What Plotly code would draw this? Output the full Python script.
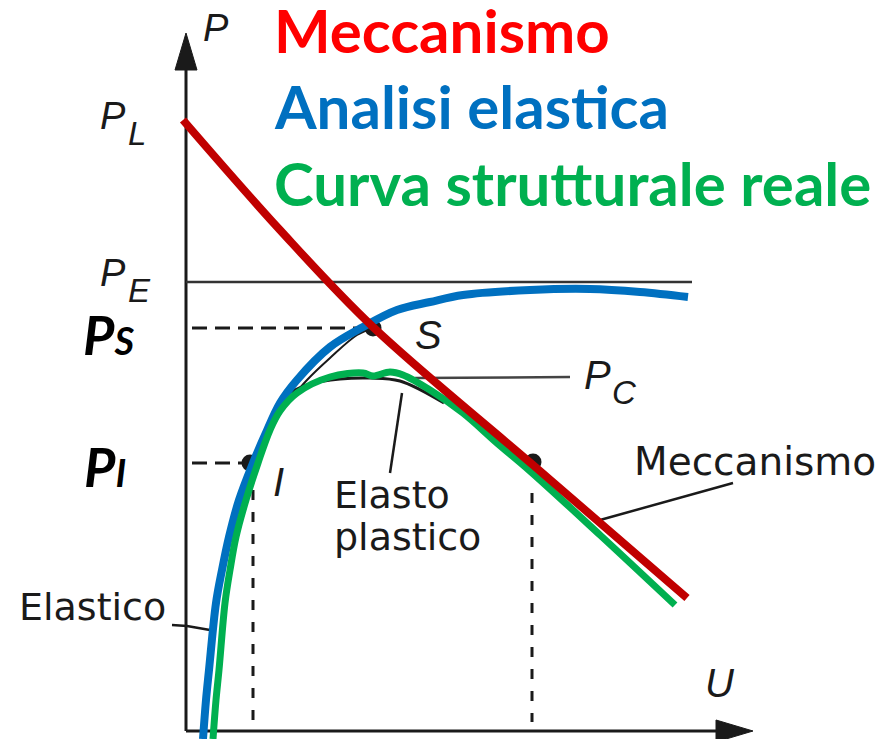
import plotly.graph_objects as go

# ---- data (U = displacement, P = load; arbitrary diagram units) ----
blue_U = [17, 20, 23, 30, 36, 43, 53, 67, 79, 94, 111, 144, 177, 211, 244, 277, 344, 404, 454, 502]
blue_P = [-8, 31, 61, 128, 161, 194, 231, 268, 296, 328, 351, 384, 404, 421, 429, 436, 441, 442, 439, 434]

green_U = [27, 30, 33, 39, 44, 50, 60, 72, 84, 94, 111, 144, 177, 187, 204, 217, 244, 277, 311, 344, 414, 489]
green_P = [-8, 31, 61, 128, 161, 194, 231, 268, 301, 320, 338, 354, 358, 355, 359, 356, 341, 318, 288, 260, 196, 126]

red_U = [-3, 94, 187, 347, 501]
red_P = [611, 501, 404, 266, 133]

# original (scanned) black curves under the coloured ones
elastic_bk_U = [104, 121, 144, 171, 187]
elastic_bk_P = [331, 351, 373, 396, 403]
elastoplastic_bk_U = [101, 124, 154, 184, 214, 258]
elastoplastic_bk_P = [337, 347, 352, 353, 350, 328]

# key points: S, I, mechanism intersection
pts_U = [187, 64, 347]
pts_P = [403, 268, 269]

# reference levels
P_E = 449
P_S = 403
P_I = 268
U_I = 67
U_M = 346
U_E_END = 506

# axes extents
AX_U_END = 567
AX_P_END = 698
HEAD_LEN = 37
HEAD_HALF = 11

# leader lines
lead_PC_U = [229, 384]; lead_PC_P = [353, 354]
lead_EP_U = [216, 204]; lead_EP_P = [338, 258]
lead_M_U = [547, 414]; lead_M_P = [248, 211]
lead_E_U = [-14, 1, 24]; lead_E_P = [106, 105, 101]

RED = "#C00000"
BLUE = "#0070C0"
GREEN = "#00B050"
INK = "#1a1a1a"

fig = go.Figure()

def line(u, p, color=INK, width=2, dash=None, shape="linear"):
    fig.add_trace(go.Scatter(x=u, y=p, mode="lines", hoverinfo="skip",
                             line=dict(color=color, width=width, dash=dash, shape=shape),
                             showlegend=False))

# axes
line([0, 0], [0, AX_P_END - HEAD_LEN], width=3)
line([0, AX_U_END - HEAD_LEN], [0, 0], width=3)
fig.add_trace(go.Scatter(x=[-HEAD_HALF, 0, HEAD_HALF, -HEAD_HALF],
                         y=[AX_P_END - HEAD_LEN, AX_P_END, AX_P_END - HEAD_LEN, AX_P_END - HEAD_LEN],
                         fill="toself", fillcolor=INK, mode="lines", line=dict(color=INK, width=1),
                         hoverinfo="skip", showlegend=False))
fig.add_trace(go.Scatter(x=[AX_U_END - HEAD_LEN, AX_U_END, AX_U_END - HEAD_LEN, AX_U_END - HEAD_LEN],
                         y=[-HEAD_HALF, 0, HEAD_HALF, -HEAD_HALF],
                         fill="toself", fillcolor=INK, mode="lines", line=dict(color=INK, width=1),
                         hoverinfo="skip", showlegend=False))

# P_E level
line([0, U_E_END], [P_E, P_E], color="#333333", width=2.5)

# dashed guides
line([6, pts_U[0] - 5], [P_S, P_S], width=3, dash="15px,8px")
line([6, pts_U[1] - 5], [P_I, P_I], width=3, dash="15px,8px")
line([U_I, U_I], [241, 2], width=3, dash="10px,12px")
line([U_M, U_M], [238, 9], width=3, dash="10px,12px")

# leader lines
line(lead_PC_U, lead_PC_P, color="#444444", width=2.5)
line(lead_EP_U, lead_EP_P, width=2.5)
line(lead_M_U, lead_M_P, width=2.5)
line(lead_E_U, lead_E_P, width=2.5)

# scanned black curves
line(elastic_bk_U, elastic_bk_P, width=2, shape="spline")
line(elastoplastic_bk_U, elastoplastic_bk_P, width=3, shape="spline")

# points
fig.add_trace(go.Scatter(x=pts_U, y=pts_P, mode="markers", hoverinfo="skip",
                         marker=dict(color=INK, size=17), showlegend=False))

# coloured curves
line(blue_U, blue_P, color=BLUE, width=8, shape="spline")
line(green_U, green_P, color=GREEN, width=7, shape="spline")
line(red_U, red_P, color=RED, width=8, shape="spline")

def txt(u, p, s, size, color=INK, family="DejaVu Sans", xanchor="left", yanchor="middle"):
    fig.add_annotation(x=u, y=p, text=s, showarrow=False, xanchor=xanchor, yanchor=yanchor,
                       font=dict(size=size, color=color, family=family), borderpad=0)

# legend-like titles
TITLE_FONT = "Lato"
txt(87, 701, "<b>Meccanismo</b>", 60, color="#FF0000", family=TITLE_FONT)
txt(87, 625, "<b>Analisi elastica</b>", 60, color=BLUE, family=TITLE_FONT)
txt(87, 548, "<b>Curva strutturale reale</b>", 60, color=GREEN, family=TITLE_FONT)

# axis labels
SC = "Liberation Sans"
txt(30, 703, "<i>P</i>", 38, family=SC, xanchor="center")
txt(534, 48, "<i>U</i>", 40, family=SC, xanchor="center")
txt(-73, 615, "<i>P</i>", 38, family=SC, xanchor="center")
txt(-49, 598, "<i>L</i>", 33, family=SC, xanchor="center")
txt(-73, 458, "<i>P</i>", 38, family=SC, xanchor="center")
txt(-47, 441, "<i>E</i>", 33, family=SC, xanchor="center")
txt(411, 356, "<i>P</i>", 40, family=SC, xanchor="center")
txt(438, 339, "<i>C</i>", 33, family=SC, xanchor="center")
txt(242, 396, "<i>S</i>", 40, family=SC, xanchor="center")
txt(92, 249, "<i>I</i>", 40, family=SC, xanchor="center")

# bold P_S and P_I
txt(-104, 397, "<b><i>P<span style='font-size:38px'>S</span></i></b>", 54, color="#000000", family=TITLE_FONT)
txt(-103, 265, "<b><i>P<span style='font-size:38px'>I</span></i></b>", 54, color="#000000", family=TITLE_FONT)

# descriptive labels
txt(147, 236, "Elasto", 38)
txt(147, 194, "plastico", 38)
txt(-168, 124, "Elastico", 38)
txt(447, 270, "Meccanismo", 39)

# page has an 8px body margin: figure is 882x731 and ranges keep 1 unit = 1 px
fig.update_layout(width=882, height=731, margin=dict(l=0, r=0, t=0, b=0),
                  paper_bgcolor="white", plot_bgcolor="white",
                  xaxis=dict(range=[-178, 704], visible=False, fixedrange=True),
                  yaxis=dict(range=[-8, 723], visible=False, fixedrange=True),
                  showlegend=False)

fig.write_html("out.html")
